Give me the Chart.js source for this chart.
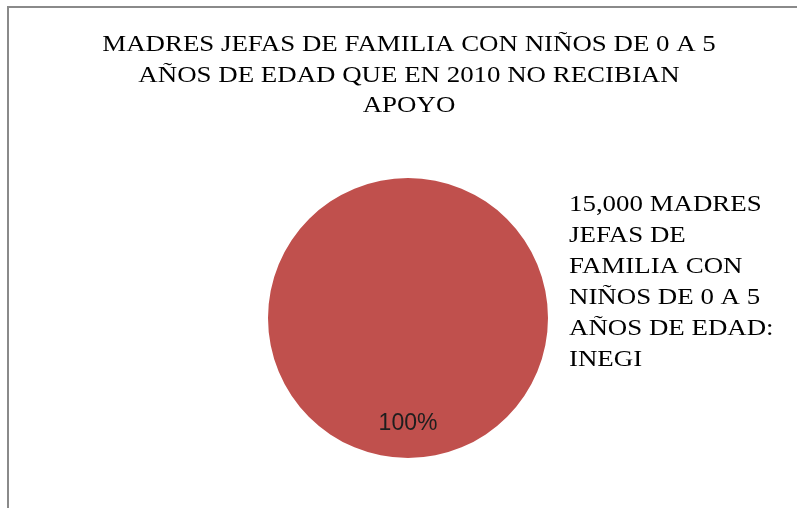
<!DOCTYPE html>
<html>
<head>
<meta charset="utf-8">
<script src="https://cdn.jsdelivr.net/npm/chart.js@4/dist/chart.umd.min.js"></script>
<style>
  html, body { margin: 0; padding: 0; background: #fff; }
  #wrap { position: relative; width: 797px; height: 508px; }
  #frame {
    position: absolute; left: 7px; top: 6px; right: -10px; bottom: -10px;
    border-left: 2px solid #8a8a8a; border-top: 2px solid #8a8a8a;
    pointer-events: none;
  }
  canvas { display: block; }
</style>
</head>
<body>
<div id="wrap">
  <canvas id="chart" width="797" height="508"></canvas>
  <div id="frame"></div>
</div>
<script>
// ---- Data ----
const titleLines = [
    'MADRES JEFAS DE FAMILIA CON NIÑOS DE 0 A 5',
    'AÑOS DE EDAD QUE EN 2010 NO RECIBIAN',
    'APOYO',
];
const legendLines = [
    '15,000 MADRES',
    'JEFAS DE',
    'FAMILIA CON',
    'NIÑOS DE 0 A 5',
    'AÑOS DE EDAD:',
    'INEGI',
];
const categories = [legendLines.join(' ')];
const values = [15000];
const colours = ['#C0504D'];

const SERIF = '"Liberation Serif", "Times New Roman", serif';
const SANS = '"Liberation Sans", Arial, sans-serif';
const STRETCH = 1.12; // the original serif text is a bit wide

function wideText(ctx, text, x, y) {
    ctx.save();
    ctx.translate(x, y);
    ctx.scale(STRETCH, 1);
    ctx.fillText(text, 0, 0);
    ctx.restore();
}

// draws the wrapped title, the marker-less legend and the % label
const textPlugin = {
    id: 'texts',
    afterDraw(chart) {
        const ctx = chart.ctx;
        ctx.save();
        ctx.fillStyle = '#000';
        ctx.textBaseline = 'middle';

        ctx.font = `24px ${SERIF}`;
        ctx.textAlign = 'center';
        titleLines.forEach((line, i) => wideText(ctx, line, 409, 45 + i * 30.5));

        ctx.textAlign = 'left';
        legendLines.forEach((line, i) => wideText(ctx, line, 569, 205 + i * 31));

        // percentage label, inside the slice near the bottom
        const total = values.reduce((a, b) => a + b, 0);
        const arc = chart.getDatasetMeta(0).data[0];
        const pct = Math.round((values[0] / total) * 100) + '%';
        ctx.font = `23px ${SANS}`;
        ctx.fillStyle = '#1e1e1e';
        ctx.textAlign = 'center';
        ctx.fillText(pct, arc.x, arc.y + arc.outerRadius * 0.75 + 1);
        ctx.restore();
    },
};

new Chart(document.getElementById('chart').getContext('2d'), {
    type: 'pie',
    data: {
        labels: categories,
        datasets: [{
            data: values,
            backgroundColor: colours,
            borderWidth: 0,
        }],
    },
    options: {
        responsive: false,
        animation: false,
        layout: { padding: { top: 178, bottom: 50, left: 268, right: 249 } },
        plugins: {
            legend: { display: false },
            title: { display: false },
            tooltip: { enabled: false },
        },
    },
    plugins: [textPlugin],
});
</script>
</body>
</html>
